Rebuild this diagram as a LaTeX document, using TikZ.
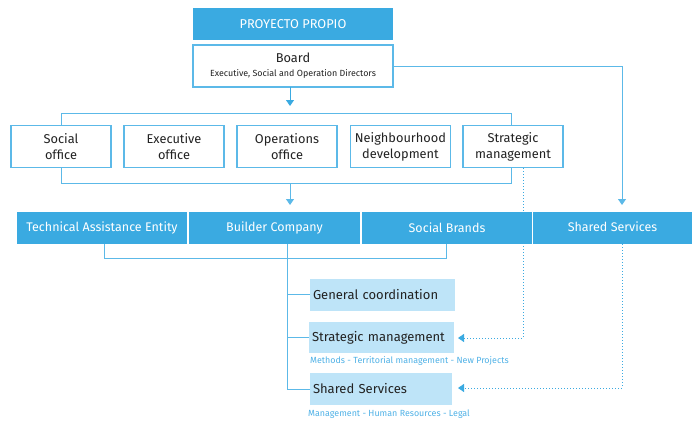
\documentclass[tikz,border=0pt]{standalone}
\usepackage{fontspec}
\setmainfont{Fira Sans}
\usetikzlibrary{arrows.meta}
\definecolor{hdblue}{HTML}{3AAAE1}
\definecolor{lnblue}{HTML}{5CB9E8}
\definecolor{ltblue}{HTML}{BEE4F8}
\definecolor{txblue}{HTML}{4FB1E6}
\definecolor{dark}{HTML}{222222}
\tikzset{
  hdbox/.style={fill=hdblue, draw=none, text=white, minimum height=32pt, inner sep=0pt, font=\fontsize{12.5}{14}\selectfont},
  officebox/.style={draw=lnblue, line width=1.1pt, fill=white, minimum width=100pt, minimum height=42pt, inner sep=0pt, align=center, text=dark, font=\fontsize{12.8}{16}\selectfont},
  subbox/.style={fill=ltblue, draw=none, minimum height=32pt, inner xsep=3pt, inner ysep=0pt, align=left, text=dark, font=\fontsize{13}{15}\selectfont},
  subtxt/.style={text=txblue, inner sep=0pt, anchor=west, font=\fontsize{8.9}{10}\selectfont},
  conn/.style={draw=lnblue, line width=1pt},
  dotconn/.style={draw=hdblue, line width=1pt, dotted},
  tip/.style={-{Triangle[width=8pt,length=6pt]}},
}
\begin{document}
\begin{tikzpicture}[x=1pt,y=-1pt]
\path[use as bounding box] (0,0) rectangle (692,420);
% top
\node[hdbox, minimum width=200pt, font=\fontsize{12.8}{14}\selectfont] (proy) at (293,24) {PROYECTO PROPIO};
\node[officebox, minimum width=200pt] (board) at (293,66) {Board\\[-2pt]{\fontsize{8.9}{10}\selectfont Executive, Social and Operation Directors}};
% offices
\node[officebox] (social) at (61,146.5) {Social\\office};
\node[officebox] (exec) at (174,146.5) {Executive\\office};
\node[officebox] (oper) at (287,146.5) {Operations\\office};
\node[officebox] (neigh) at (400.5,146.5) {Neighbourhood\\development};
\node[officebox] (strat) at (513,146.5) {Strategic\\management};
% blue row
\node[hdbox, minimum width=170pt] (tech) at (102,228) {Technical Assistance Entity};
\node[hdbox, minimum width=171pt] (builder) at (274.5,228) {Builder Company};
\node[hdbox, minimum width=170pt] (brands) at (447,228) {Social Brands};
\node[hdbox, minimum width=159pt] (shared) at (612.5,228) {\raisebox{2pt}{Shared Services}};
% light boxes
\node[subbox, text width=139pt] (gc) at (382.5,295) {General coordination};
\node[subbox, text width=139pt, minimum height=31pt] (sm) at (381.5,337.5) {Strategic management};
\node[subbox, text width=136pt] (ss) at (381,389) {Shared Services};
\node[subtxt] (smtxt) at (310,361) {Methods - Territorial management - New Projects};
\node[subtxt] (sstxt) at (308,414) {Management - Human Resources - Legal};
% coordinates
\coordinate (bA) at (290,87);
\coordinate (bB) at (290,106);
\coordinate (oA) at (290,183);
\coordinate (oB) at (290,205);
\coordinate (sA) at (622,205);
\coordinate (dsm) at (458,338);
\coordinate (dss) at (458,388);
% connectors
\draw[conn, tip, draw=hdblue] (bA) -- (bB);
\draw[conn] (social.north) |- (511,113) -- (strat.north -| 511,0);
\draw[conn] (social.south) |- (511,183) -- (strat.south -| 511,0);
\draw[conn, tip] (oA) -- (oB);
\draw[conn, tip] (board.east) -| (sA);
\draw[conn] (tech.south -| 104,0) |- (446,258) -- (brands.south -| 446,0);
\draw[conn] (builder.south -| 287,0) |- (ss.west);
\draw[conn] (287,294) -- (gc.west |- 287,294);
\draw[conn] (287,337) -- (sm.west |- 287,337);
\draw[dotconn, tip] (strat.south -| 523,0) |- (dsm);
\draw[dotconn, tip] (shared.south -| 622,0) |- (dss);
\end{tikzpicture}
\end{document}
